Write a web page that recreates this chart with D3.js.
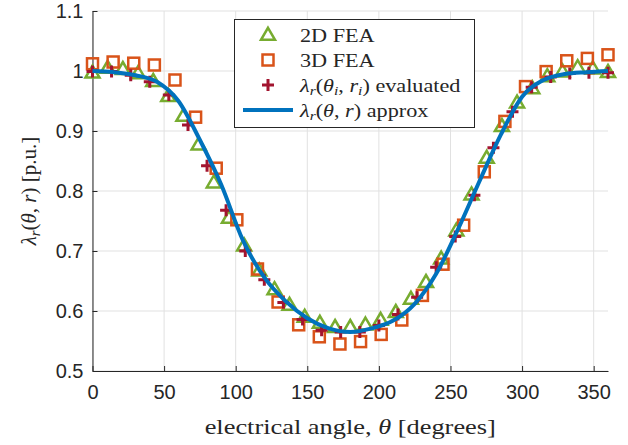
<!DOCTYPE html>
<html>
<head>
<meta charset="utf-8">
<script src="https://cdn.jsdelivr.net/npm/d3@7"></script>
<style>
  html, body { margin: 0; padding: 0; background: #fff; }
  svg { display: block; }
  .tick text { font-family: 'Liberation Sans', Arial, sans-serif; font-size: 20px; fill: #262626; }
  .serif { font-family: 'Liberation Serif', 'Times New Roman', serif; fill: #262626; }
</style>
</head>
<body>
<div id="chart"></div>
<script>
// 2D FEA (triangles)
const fea2dAngle = [0, 10.6, 21.2, 31.8, 42.4, 52.9, 63.5, 74.1, 84.7, 95.3, 105.9, 116.5, 127.1, 137.6, 148.2, 158.8, 169.4, 180,
  190.6, 201.2, 211.8, 222.4, 232.9, 243.5, 254.1, 264.7, 275.3, 285.9, 296.5, 307.1, 317.6, 328.2, 338.8, 349.4, 360];
const fea2dValue = [0.997, 1.005, 1.003, 0.996, 0.983, 0.958, 0.925, 0.877, 0.814, 0.755, 0.709, 0.667, 0.636, 0.610, 0.590, 0.580, 0.573, 0.573,
  0.577, 0.585, 0.598, 0.620, 0.648, 0.687, 0.734, 0.794, 0.855, 0.908, 0.947, 0.971, 0.991, 0.999, 1.006, 1.004, 0.998];

// 3D FEA (squares)
const fea3dAngle = [0, 14.4, 28.8, 43.2, 57.6, 72, 86.4, 100.8, 115.2, 129.6, 144, 158.4, 172.8,
  187.2, 201.6, 216, 230.4, 244.8, 259.2, 273.6, 288, 302.4, 316.8, 331.2, 345.6, 360];
const fea3dValue = [1.012, 1.015, 1.013, 1.010, 0.985, 0.923, 0.838, 0.752, 0.670, 0.615, 0.577, 0.557, 0.545,
  0.549, 0.561, 0.585, 0.626, 0.678, 0.743, 0.832, 0.916, 0.974, 0.999, 1.017, 1.021, 1.027];

// lambda_r(theta_i, r_i) evaluated (plus)
const evalAngle = [0, 13.3, 26.7, 40, 53.3, 66.7, 80, 93.3, 106.7, 120, 133.3, 146.7, 160, 173.3,
  186.7, 200, 213.3, 226.7, 240, 253.3, 266.7, 280, 293.3, 306.7, 320, 333.3, 346.7, 360];
const evalValue = [0.999, 0.999, 0.993, 0.982, 0.960, 0.910, 0.842, 0.768, 0.700, 0.652, 0.614, 0.586, 0.568, 0.565,
  0.565, 0.576, 0.594, 0.623, 0.673, 0.724, 0.793, 0.872, 0.932, 0.973, 0.990, 0.996, 0.997, 0.997];

// lambda_r(theta, r) approx (line)
const approxAngle = [0, 15, 30, 45, 60, 75, 90, 105, 120, 135, 150, 165, 180, 195, 210, 225, 240, 255, 270, 285, 300, 315, 330, 345, 360];
const approxValue = [1.000, 0.998, 0.993, 0.982, 0.950, 0.885, 0.810, 0.718, 0.656, 0.616, 0.588, 0.571, 0.565, 0.571, 0.584, 0.612, 0.662, 0.735, 0.815, 0.893, 0.957, 0.985, 0.995, 0.998, 1.000];

const xTicks = [0, 50, 100, 150, 200, 250, 300, 350];
const yTicks = [0.5, 0.6, 0.7, 0.8, 0.9, 1.0, 1.1];

const config = {
  width: 628,
  height: 445,
  left: 92.5,
  right: 608,
  top: 11,
  bottom: 371,
  gridColor: '#e1e1e1',
  axisColor: '#262626',
  triColor: '#77AC30',
  sqColor: '#D95319',
  plusColor: '#A2142F',
  lineColor: '#0072BD'
};

const svg = d3.select('#chart')
  .append('svg')
  .attr('width', config.width)
  .attr('height', config.height);

const x = d3.scaleLinear().domain([0, 360]).range([config.left, config.right]);
const y = d3.scaleLinear().domain([0.5, 1.1]).range([config.bottom, config.top]);

// grid
svg.append('g').selectAll('line')
  .data(xTicks)
  .enter()
  .append('line')
  .attr('x1', d => x(d)).attr('x2', d => x(d))
  .attr('y1', config.top).attr('y2', config.bottom)
  .attr('stroke', config.gridColor).attr('stroke-width', 1);

svg.append('g').selectAll('line')
  .data(yTicks)
  .enter()
  .append('line')
  .attr('x1', config.left).attr('x2', config.right)
  .attr('y1', d => y(d)).attr('y2', d => y(d))
  .attr('stroke', config.gridColor).attr('stroke-width', 1);

// axes (ticks point inward)
const xAxis = d3.axisBottom(x).tickValues(xTicks).tickSizeInner(-5).tickSizeOuter(0).tickPadding(14)
  .tickFormat(d3.format('d'));
const yAxis = d3.axisLeft(y).tickValues(yTicks).tickSizeInner(-5).tickSizeOuter(0).tickPadding(9)
  .tickFormat(d => d === 1 ? '1' : d3.format('.1f')(d));

const gx = svg.append('g')
  .attr('transform', `translate(0, ${config.bottom})`)
  .call(xAxis);
const gy = svg.append('g')
  .attr('transform', `translate(${config.left}, 0)`)
  .call(yAxis);

[gx, gy].forEach(g => {
  g.select('.domain').attr('stroke', config.axisColor);
  g.selectAll('.tick line').attr('stroke', config.axisColor);
  g.attr('font-family', null).attr('font-size', null);
});

// marker shapes
const triPath = (cx, cy) => {
  const h = 12, w = 14;
  return `M${cx},${cy - h * 0.6}L${cx + w / 2},${cy + h * 0.4}L${cx - w / 2},${cy + h * 0.4}Z`;
};
const sqSize = 11;
const plusSize = 12;

const fea2d = fea2dAngle.map((a, i) => ({a, v: fea2dValue[i]}));
const fea3d = fea3dAngle.map((a, i) => ({a, v: fea3dValue[i]}));
const evals = evalAngle.map((a, i) => ({a, v: evalValue[i]}));
const approx = approxAngle.map((a, i) => ({a, v: approxValue[i]}));

const plot = svg.append('g');

plot.selectAll('.tri')
  .data(fea2d)
  .enter()
  .append('path')
  .attr('class', 'tri')
  .attr('d', d => triPath(x(d.a), y(d.v)))
  .attr('fill', 'none')
  .attr('stroke', config.triColor)
  .attr('stroke-width', 2.5);

plot.selectAll('.sq')
  .data(fea3d)
  .enter()
  .append('rect')
  .attr('class', 'sq')
  .attr('x', d => x(d.a) - sqSize / 2)
  .attr('y', d => y(d.v) - sqSize / 2)
  .attr('width', sqSize)
  .attr('height', sqSize)
  .attr('fill', 'none')
  .attr('stroke', config.sqColor)
  .attr('stroke-width', 2.5);

plot.selectAll('.plus')
  .data(evals)
  .enter()
  .append('path')
  .attr('class', 'plus')
  .attr('d', d => {
    const cx = x(d.a), cy = y(d.v), r = plusSize / 2;
    return `M${cx - r},${cy}H${cx + r}M${cx},${cy - r}V${cy + r}`;
  })
  .attr('stroke', config.plusColor)
  .attr('stroke-width', 3);

const line = d3.line()
  .x(d => x(d.a))
  .y(d => y(d.v))
  .curve(d3.curveMonotoneX);

plot.append('path')
  .datum(approx)
  .attr('d', line)
  .attr('fill', 'none')
  .attr('stroke', config.lineColor)
  .attr('stroke-width', 4);

// legend
const legend = svg.append('g');
legend.append('rect')
  .attr('x', 234.5).attr('y', 19.5)
  .attr('width', 240).attr('height', 108)
  .attr('fill', '#fff')
  .attr('stroke', config.axisColor)
  .attr('stroke-width', 1);

const legRows = [35, 60, 85, 110];
const mx = 268, tx = 300;
legend.append('path').attr('d', triPath(mx, legRows[0]))
  .attr('fill', 'none').attr('stroke', config.triColor).attr('stroke-width', 2.5);
legend.append('rect')
  .attr('x', mx - sqSize / 2).attr('y', legRows[1] - sqSize / 2)
  .attr('width', sqSize).attr('height', sqSize)
  .attr('fill', 'none').attr('stroke', config.sqColor).attr('stroke-width', 2.5);
legend.append('path')
  .attr('d', `M${mx - 6},${legRows[2]}H${mx + 6}M${mx},${legRows[2] - 6}V${legRows[2] + 6}`)
  .attr('stroke', config.plusColor).attr('stroke-width', 3);
legend.append('line')
  .attr('x1', 243).attr('x2', 293)
  .attr('y1', legRows[3]).attr('y2', legRows[3])
  .attr('stroke', config.lineColor).attr('stroke-width', 4);

const addMath = (sel, parts) => {
  parts.forEach(p => {
    const t = sel.append('tspan').text(p[0]);
    if (p[1] === 'i') t.attr('font-style', 'italic');
    if (p[1] === 'sub') t.attr('font-style', 'italic').attr('font-size', '0.7em').attr('baseline-shift', '-0.3em');
  });
};

// computer-modern glyphs are wider than Times, so stretch horizontally
const legText = (row) => legend.append('text')
  .attr('class', 'serif')
  .attr('transform', `translate(${tx}, ${legRows[row]}) scale(1.17, 1)`)
  .attr('dy', '0.35em')
  .style('font-size', '19px');

legText(0).text('2D FEA');
legText(1).text('3D FEA');
addMath(legText(2), [['λ', 'i'], ['r', 'sub'], ['('], ['θ', 'i'], ['i', 'sub'], [', '], ['r', 'i'], ['i', 'sub'], [') evaluated']]);
addMath(legText(3), [['λ', 'i'], ['r', 'sub'], ['('], ['θ', 'i'], [', '], ['r', 'i'], [') approx']]);

// axis titles
const xLabel = svg.append('text')
  .attr('class', 'serif')
  .attr('transform', `translate(${(config.left + config.right) / 2}, 426) scale(1.2, 1)`)
  .attr('dy', '0.35em')
  .attr('text-anchor', 'middle')
  .style('font-size', '22px');
addMath(xLabel, [['electrical angle, '], ['θ', 'i'], [' [degrees]']]);

const yLabel = svg.append('text')
  .attr('class', 'serif')
  .attr('transform', `translate(29, ${(config.top + config.bottom) / 2}) rotate(-90)`)
  .attr('dy', '0.35em')
  .attr('text-anchor', 'middle')
  .style('font-size', '21px');
addMath(yLabel, [['λ', 'i'], ['r', 'sub'], ['('], ['θ', 'i'], [', '], ['r', 'i'], [') [p.u.]']]);
</script>
</body>
</html>
